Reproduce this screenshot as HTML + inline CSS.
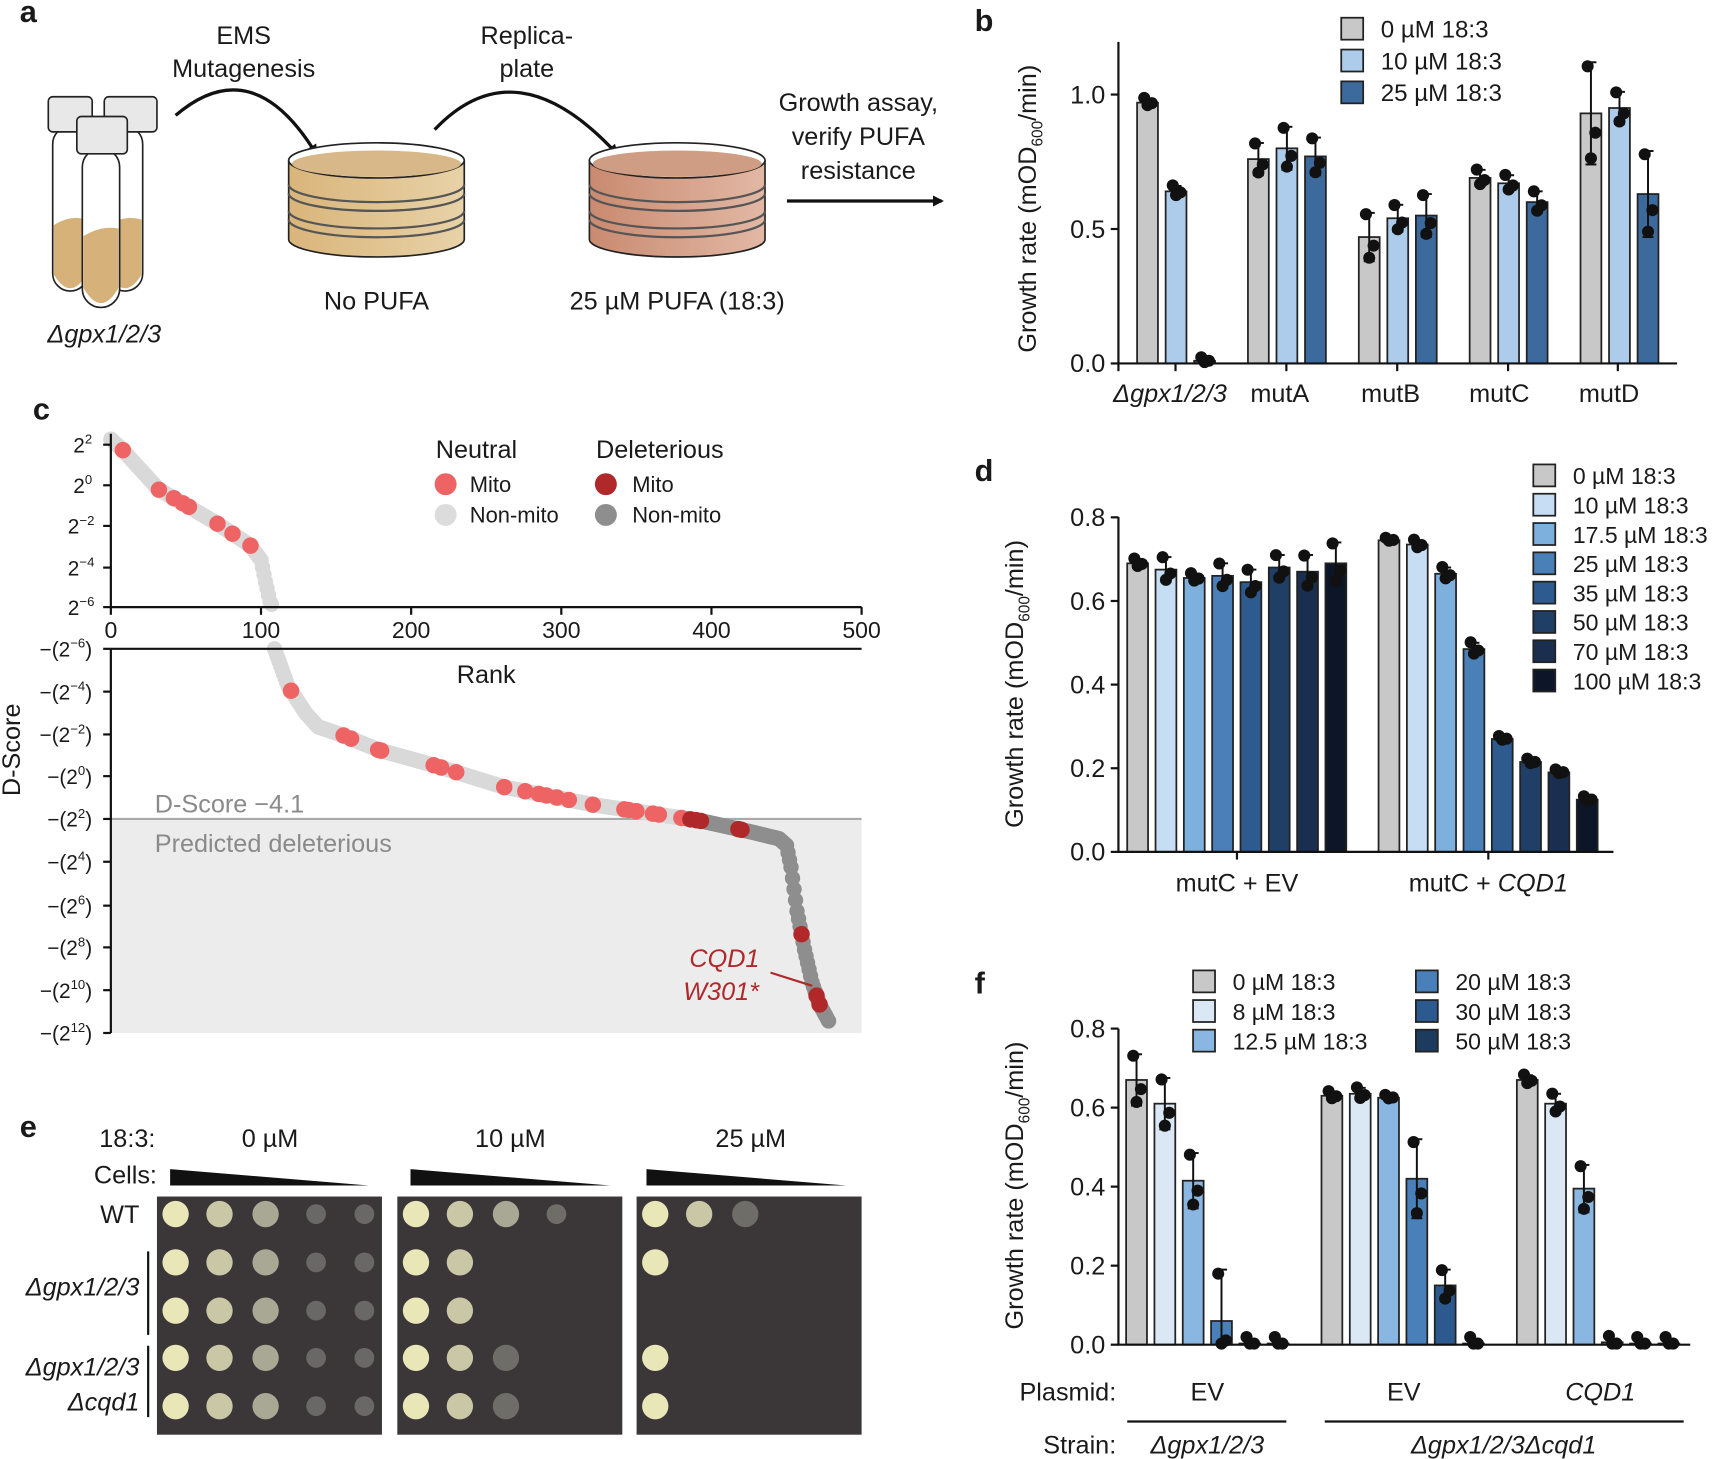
<!DOCTYPE html>
<html><head><meta charset="utf-8">
<style>
html,body{margin:0;padding:0;background:#fff;}
svg{display:block;}
text{font-family:"Liberation Sans",Arial,sans-serif;fill:#1a1a1a;}
</style></head>
<body>
<svg id="s" xmlns="http://www.w3.org/2000/svg" width="1721" height="1459" viewBox="0 0 1568 1329">
<defs>
<linearGradient id="tan" x1="0" x2="1"><stop offset="0" stop-color="#d9b57a"/><stop offset="1" stop-color="#e8d2a8"/></linearGradient>
<linearGradient id="pink" x1="0" x2="1"><stop offset="0" stop-color="#c98a70"/><stop offset="1" stop-color="#e2b8a4"/></linearGradient>
<marker id="ah" markerWidth="10" markerHeight="10" refX="8" refY="5" orient="auto" markerUnits="userSpaceOnUse"><path d="M0,0 L10,5 L0,10 z" fill="#111"/></marker>
</defs>

<text x="18" y="20" font-size="28" font-weight="bold">a</text>
<g stroke="#222" stroke-width="1.5">
 <rect x="48" y="115" width="32" height="150" rx="16" fill="#fff"/>
 <path d="M49,205 Q64,195 79,200 L79,250 Q64,275 49,250z" fill="#d6b27a" stroke="none"/>
 <rect x="98" y="115" width="32" height="150" rx="16" fill="#fff"/>
 <path d="M99,205 Q114,195 129,200 L129,250 Q114,275 99,250z" fill="#d6b27a" stroke="none"/>
 <rect x="44" y="88" width="40" height="32" rx="4" fill="#e8e8e8"/>
 <rect x="95" y="88" width="48" height="32" rx="4" fill="#e8e8e8"/>
 <rect x="75" y="135" width="34" height="145" rx="17" fill="#fff"/>
 <path d="M76,215 Q92,205 108,208 L108,262 Q92,290 76,262z" fill="#d6b27a" stroke="none"/>
 <rect x="70" y="106" width="46" height="34" rx="4" fill="#e8e8e8"/>
</g>
<text x="222" y="40" font-size="23" text-anchor="middle">EMS</text>
<text x="222" y="70" font-size="23" text-anchor="middle">Mutagenesis</text>
<text x="480" y="40" font-size="23" text-anchor="middle">Replica-</text>
<text x="480" y="70" font-size="23" text-anchor="middle">plate</text>
<path d="M160,105 Q230,45 288,140" fill="none" stroke="#111" stroke-width="3" marker-end="url(#ah)"/>
<path d="M396,118 Q470,40 562,140" fill="none" stroke="#111" stroke-width="3" marker-end="url(#ah)"/>
<g stroke="#222" stroke-width="1.5">
 <path d="M263,146 L263,218 A80,16 0 0 0 423,218 L423,146z" fill="url(#tan)"/>
 <ellipse cx="343" cy="146" rx="80" ry="16" fill="#fff"/>
 <ellipse cx="343" cy="149" rx="77" ry="12" fill="#d8b888" stroke="none"/>
 <path d="M263,176 A80,16 0 0 0 423,176 M263,200 A80,16 0 0 0 423,200 M263,168 A80,16 0 0 0 423,168 M263,192 A80,16 0 0 0 423,192" fill="none" stroke="#555" stroke-width="2"/>
 <path d="M537,146 L537,218 A80,16 0 0 0 697,218 L697,146z" fill="url(#pink)"/>
 <ellipse cx="617" cy="146" rx="80" ry="16" fill="#fff"/>
 <ellipse cx="617" cy="149" rx="77" ry="12" fill="#cf9c84" stroke="none"/>
 <path d="M537,176 A80,16 0 0 0 697,176 M537,200 A80,16 0 0 0 697,200 M537,168 A80,16 0 0 0 697,168 M537,192 A80,16 0 0 0 697,192" fill="none" stroke="#555" stroke-width="2"/>
</g>
<text x="343" y="282" font-size="23" text-anchor="middle">No PUFA</text>
<text x="617" y="282" font-size="23" text-anchor="middle">25 µM PUFA (18:3)</text>
<text x="782" y="101" font-size="23" text-anchor="middle">Growth assay,</text>
<text x="782" y="132" font-size="23" text-anchor="middle">verify PUFA</text>
<text x="782" y="163" font-size="23" text-anchor="middle">resistance</text>
<line x1="717" y1="183" x2="858" y2="183" stroke="#111" stroke-width="3" marker-end="url(#ah)"/>
<text x="95" y="312" font-size="23" text-anchor="middle" font-style="italic">Δgpx1/2/3</text>

<text x="888" y="28" font-size="28" font-weight="bold">b</text>
<text x="30" y="382" font-size="28" font-weight="bold">c</text>
<text x="888" y="438" font-size="28" font-weight="bold">d</text>
<text x="888" y="905" font-size="28" font-weight="bold">f</text>
<text x="18" y="1036" font-size="28" font-weight="bold">e</text>

<rect x="101" y="746" width="684" height="195" fill="#ececec"/>
<line x1="101" y1="746" x2="785" y2="746" stroke="#aaa" stroke-width="2"/>
<text x="141" y="740" font-size="23" style="fill:#8a8a8a">D-Score −4.1</text>
<text x="141" y="776" font-size="23" style="fill:#8a8a8a">Predicted deleterious</text>
<g id="cdots"></g>
<g stroke="#111" stroke-width="2" fill="none">
 <path d="M101,395 L101,553 L785,553"/>
 <path d="M101,591 L101,941"/>
 <path d="M101,591 L785,591"/>
</g>
<text x="443" y="622" font-size="23" text-anchor="middle">Rank</text>
<text transform="translate(18,683) rotate(-90)" font-size="23" text-anchor="middle">D-Score</text>
<text x="397" y="417" font-size="23">Neutral</text>
<text x="543" y="417" font-size="23">Deleterious</text>
<circle cx="406" cy="441" r="10" fill="#ee6363"/><text x="428" y="448" font-size="20">Mito</text>
<circle cx="406" cy="469" r="10" fill="#dcdcdc"/><text x="428" y="476" font-size="20">Non-mito</text>
<circle cx="552" cy="441" r="10" fill="#b0282a"/><text x="576" y="448" font-size="20">Mito</text>
<circle cx="552" cy="469" r="10" fill="#8e8e8e"/><text x="576" y="476" font-size="20">Non-mito</text>
<text x="660" y="881" font-size="23" text-anchor="middle" font-style="italic" style="fill:#b0282a">CQD1</text>
<text x="657" y="911" font-size="23" text-anchor="middle" font-style="italic" style="fill:#b0282a">W301*</text>
<line x1="702" y1="886" x2="740" y2="898" stroke="#b0282a" stroke-width="2"/>

<text x="116" y="1045" font-size="23" text-anchor="middle">18:3:</text>
<text x="246" y="1045" font-size="23" text-anchor="middle">0 µM</text>
<text x="465" y="1045" font-size="23" text-anchor="middle">10 µM</text>
<text x="684" y="1045" font-size="23" text-anchor="middle">25 µM</text>
<text x="143" y="1078" font-size="23" text-anchor="end">Cells:</text>
<path d="M155,1065 L155,1080 L336,1080z" fill="#111"/>
<path d="M374,1065 L374,1080 L556,1080z" fill="#111"/>
<path d="M589,1065 L589,1080 L771,1080z" fill="#111"/>
<text x="127" y="1114" font-size="23" text-anchor="end">WT</text>
<text x="127" y="1180" font-size="23" text-anchor="end" font-style="italic">Δgpx1/2/3</text>
<text x="127" y="1253" font-size="23" text-anchor="end" font-style="italic">Δgpx1/2/3</text>
<text x="127" y="1285" font-size="23" text-anchor="end" font-style="italic">Δcqd1</text>
<line x1="135" y1="1140" x2="135" y2="1216" stroke="#111" stroke-width="2"/>
<line x1="135" y1="1226" x2="135" y2="1291" stroke="#111" stroke-width="2"/>
<rect x="143" y="1090" width="205" height="217" fill="#3b3739"/>
<rect x="362" y="1090" width="205" height="217" fill="#3b3739"/>
<rect x="580" y="1090" width="205" height="217" fill="#3b3739"/>
<g id="spots"></g>

<text x="1017" y="1276" font-size="23" text-anchor="end">Plasmid:</text>
<text x="1100" y="1276" font-size="23" text-anchor="middle">EV</text>
<text x="1279" y="1276" font-size="23" text-anchor="middle">EV</text>
<text x="1458" y="1276" font-size="23" text-anchor="middle" font-style="italic">CQD1</text>
<line x1="1027" y1="1295" x2="1172" y2="1295" stroke="#111" stroke-width="2"/>
<line x1="1207" y1="1295" x2="1534" y2="1295" stroke="#111" stroke-width="2"/>
<text x="1017" y="1324" font-size="23" text-anchor="end">Strain:</text>
<text x="1100" y="1324" font-size="23" text-anchor="middle" font-style="italic">Δgpx1/2/3</text>
<text x="1370" y="1324" font-size="23" text-anchor="middle" font-style="italic">Δgpx1/2/3Δcqd1</text>

<g id="charts"></g>
</svg>
<script>
var NS="http://www.w3.org/2000/svg";
function el(p,t,a,txt){var e=document.createElementNS(NS,t);for(var k in a)e.setAttribute(k,a[k]);if(txt!==undefined)e.textContent=txt;p.appendChild(e);return e;}
var ch=document.getElementById('charts');

function ylabel(x,yc){var t=el(ch,'text',{transform:'translate('+x+','+yc+') rotate(-90)','font-size':23,'text-anchor':'middle'});
 t.appendChild(document.createTextNode('Growth rate (mOD'));
 var s=document.createElementNS(NS,'tspan');s.setAttribute('font-size','14');s.setAttribute('dy','6');s.textContent='600';t.appendChild(s);
 var s2=document.createElementNS(NS,'tspan');s2.setAttribute('dy','-6');s2.textContent='/min)';t.appendChild(s2);}

function barchart(o){
 var y0=o.y0,k=o.k;
 o.groups.forEach(function(g){
  g.vals.forEach(function(v,i){
   var x=g.x+i*o.step,h=v*k;
   var top=y0-h;
   el(ch,'rect',{x:x,y:top,width:o.w,height:Math.max(h,0.01),fill:o.colors[i],stroke:'#222','stroke-width':1.6});
   var e=(g.err&&g.err[i]!==undefined)?g.err[i]:0.015; var cx=x+o.w/2;
   if(v>0.02){
    var lo=Math.max(v-e,0);
    el(ch,'line',{x1:cx,y1:y0-(v+e)*k,x2:cx,y2:y0-lo*k,stroke:'#111','stroke-width':1.8});
    el(ch,'line',{x1:cx-5,y1:y0-(v+e)*k,x2:cx+5,y2:y0-(v+e)*k,stroke:'#111','stroke-width':1.8});
    if(v-e>0)el(ch,'line',{x1:cx-5,y1:y0-lo*k,x2:cx+5,y2:y0-lo*k,stroke:'#111','stroke-width':1.8});
   }
   var ds=[v+e*0.9,v-e*0.4,v-e*0.9];
   [[-3,0],[4,1],[0,2]].forEach(function(p){el(ch,'circle',{cx:cx+p[0],cy:y0-Math.max(ds[p[1]],0)*k-1,r:5.5,fill:'#111'});});
  });
 });
 el(ch,'path',{d:'M'+o.ax+','+o.ytop+' L'+o.ax+','+y0+' L'+o.xend+','+y0,fill:'none',stroke:'#111','stroke-width':2});
 o.ticks.forEach(function(t){var y=y0-t*k;el(ch,'line',{x1:o.ax-7,y1:y,x2:o.ax,y2:y,stroke:'#111','stroke-width':2});
  el(ch,'text',{x:o.ax-12,y:y+8,'font-size':23,'text-anchor':'end'},t.toFixed(1));});
 o.xt.forEach(function(x){el(ch,'line',{x1:x,y1:y0,x2:x,y2:y0+7,stroke:'#111','stroke-width':2});});
}
var bc=['#c8c8c8','#adcbea','#3d6a9d'];
barchart({y0:331,k:245,ax:1019,ytop:38,xend:1528,w:19,step:26,colors:bc,ticks:[0,0.5,1.0],
 xt:[1019,1071,1172,1273,1374,1474],
 groups:[{x:1036,vals:[0.97,0.64,0.01],err:[0.015,0.02,0.01]},{x:1137,vals:[0.76,0.80,0.77],err:[0.06,0.08,0.07]},
 {x:1238,vals:[0.47,0.54,0.55],err:[0.09,0.05,0.08]},{x:1339,vals:[0.69,0.67,0.60],err:[0.03,0.03,0.04]},{x:1440,vals:[0.93,0.95,0.63],err:[0.19,0.06,0.16]}]});
ylabel(944,190);
[['0 µM 18:3',26],['10 µM 18:3',55],['25 µM 18:3',84]].forEach(function(l,i){el(ch,'rect',{x:1222,y:l[1]-10,width:20,height:20,fill:bc[i],stroke:'#222','stroke-width':1.6});el(ch,'text',{x:1258,y:l[1]+8,'font-size':22},l[0]);});
[['Δgpx1/2/3',1066,true],['mutA',1166],['mutB',1267],['mutC',1366],['mutD',1466]].forEach(function(l){var t=el(ch,'text',{x:l[1],y:366,'font-size':23,'text-anchor':'middle'},l[0]);if(l[2])t.setAttribute('font-style','italic');});

var dc=['#c8c8c8','#c7ddf3','#7eb0de','#4b7fb8','#2d5a8f','#203f66','#1a2f50','#0c1628'];
barchart({y0:776,k:381,ax:1019,ytop:471,xend:1470,w:19,step:25.8,colors:dc,ticks:[0,0.2,0.4,0.6,0.8],
 xt:[1127,1356],
 groups:[{x:1027,vals:[0.69,0.675,0.655,0.66,0.645,0.68,0.67,0.69],err:[0.01,0.03,0.01,0.03,0.03,0.03,0.04,0.05]},
 {x:1256,vals:[0.745,0.735,0.665,0.485,0.27,0.215,0.19,0.125],err:[0.004,0.01,0.015,0.015,0.005,0.006,0.005,0.006]}]});
ylabel(932,623);
el(ch,'text',{x:1127,y:812,'font-size':23,'text-anchor':'middle'},'mutC + EV');
var t=el(ch,'text',{x:1356,y:812,'font-size':23,'text-anchor':'middle'},'mutC + ');var ts=document.createElementNS(NS,'tspan');ts.setAttribute('font-style','italic');ts.textContent='CQD1';t.appendChild(ts);
['0 µM 18:3','10 µM 18:3','17.5 µM 18:3','25 µM 18:3','35 µM 18:3','50 µM 18:3','70 µM 18:3','100 µM 18:3'].forEach(function(l,i){var y=433+i*26.7;el(ch,'rect',{x:1397,y:y-10,width:20,height:20,fill:dc[i],stroke:'#222','stroke-width':1.6});el(ch,'text',{x:1433,y:y+8,'font-size':21},l);});

var fc=['#c8c8c8','#dae8f6','#8ab7e2','#4a80ba','#2c5a8f','#1d3a5f'];
barchart({y0:1225,k:360,ax:1019,ytop:937,xend:1540,w:19,step:25.8,colors:fc,ticks:[0,0.2,0.4,0.6,0.8],
 xt:[],
 groups:[{x:1026,vals:[0.67,0.61,0.415,0.06,0.003,0.003],err:[0.065,0.065,0.07,0.13]},
 {x:1204,vals:[0.63,0.635,0.625,0.42,0.15,0.003],err:[0.01,0.015,0.005,0.1,0.04]},
 {x:1382,vals:[0.67,0.61,0.395,0.006,0.003,0.003],err:[0.012,0.025,0.06]}]});
ylabel(932,1080);
[['0 µM 18:3',1087,894],['8 µM 18:3',1087,921],['12.5 µM 18:3',1087,948],['20 µM 18:3',1290,894],['30 µM 18:3',1290,921],['50 µM 18:3',1290,948]].forEach(function(l,i){el(ch,'rect',{x:l[1],y:l[2]-10,width:20,height:20,fill:fc[i],stroke:'#222','stroke-width':1.6});el(ch,'text',{x:l[1]+36,y:l[2]+8,'font-size':21},l[0]);});

var cg=document.getElementById('cdots');
[0,100,200,300,400,500].forEach(function(r){var x=101+r*1.368;el(ch,'line',{x1:x,y1:553,x2:x,y2:560,stroke:'#111','stroke-width':2});el(ch,'text',{x:x,y:581,'font-size':21,'text-anchor':'middle'},r);});
function sup(x,y,pre,ex,post){var t=el(ch,'text',{x:x,y:y,'font-size':19,'text-anchor':'end'});t.appendChild(document.createTextNode(pre));var s=document.createElementNS(NS,'tspan');s.setAttribute('font-size','12');s.setAttribute('dy','-8');s.textContent=ex;t.appendChild(s);if(post){var s2=document.createElementNS(NS,'tspan');s2.setAttribute('dy','8');s2.textContent=post;t.appendChild(s2);}}
[['2',405],['0',442],['−2',479],['−4',517],['−6',553]].forEach(function(a){el(ch,'line',{x1:94,y1:a[1],x2:101,y2:a[1],stroke:'#111','stroke-width':2});sup(a[0].length>1?86:84,a[1]+7,'2',a[0]);});
[['−6',591],['−4',630],['−2',669],['0',707],['2',746],['4',785],['6',825],['8',863],['10',902],['12',941]].forEach(function(a){el(ch,'line',{x1:94,y1:a[1],x2:101,y2:a[1],stroke:'#111','stroke-width':2});sup(84,a[1]+7,'−(2',a[0],')');});
var kp=[[0,400],[8,410],[32,446],[50,460],[71,477],[93,497],[100,510],[103,530],[106,548],[108,553],[109,591],[118,625],[130,650],[138,662],[155,670],[178,683],[215,697],[262,717],[321,733],[365,742],[394,748],[427,758],[445,764],[450,770],[453,790],[457,830],[462,865],[467,895],[472,915],[478,930]];
function yr(r){for(var i=1;i<kp.length;i++){if(r<=kp[i][0]){var a=kp[i-1],b=kp[i];return a[1]+(b[1]-a[1])*(r-a[0])/(b[0]-a[0]);}}return 930;}
var red=[8,32,42,48,52,71,81,93,120,155,160,178,180,215,220,230,262,276,285,290,297,305,321,342,345,350,361,365,380];
var dred=[386,390,393,418,420,460,470,472];
var later=[];
for(var r=0;r<=478;r++){if(r>107&&r<109)continue;var y=yr(r),x=101+r*1.368;
 if(red.indexOf(r)>=0||dred.indexOf(r)>=0){later.push([x,y,red.indexOf(r)>=0?'#ee6363':'#b0282a']);continue;}
 el(cg,'circle',{cx:x,cy:y,r:7,fill:(r>383?'#8e8e8e':'#d9d9d9')});}
later.forEach(function(p){el(cg,'circle',{cx:p[0],cy:p[1],r:7.5,fill:p[2]});});

var sp=document.getElementById('spots');
var cols=[160,200,242,288,332],rows=[1106,1150,1194,1237,1281];
var plates=[[0,[5,5,5,5,5]],[219,[4,2,2,3,3]],[437,[3,1,0,1,1]]];
plates.forEach(function(p){p[1].forEach(function(n,ri){for(var c=0;c<n;c++){var x=cols[c]+p[0],y=rows[ri];
 var col=c==0?'#e9e6b8':c==1?'#c9c7a6':c==2?'#a9a894':'#6a6866';var rr=c<3?12:9;
 if(p[0]>0&&c==n-1&&n>1&&c>=2)col='#6f6d68';
 el(sp,'circle',{cx:x,cy:y,r:rr,fill:col});}});});
</script>
</body></html>
